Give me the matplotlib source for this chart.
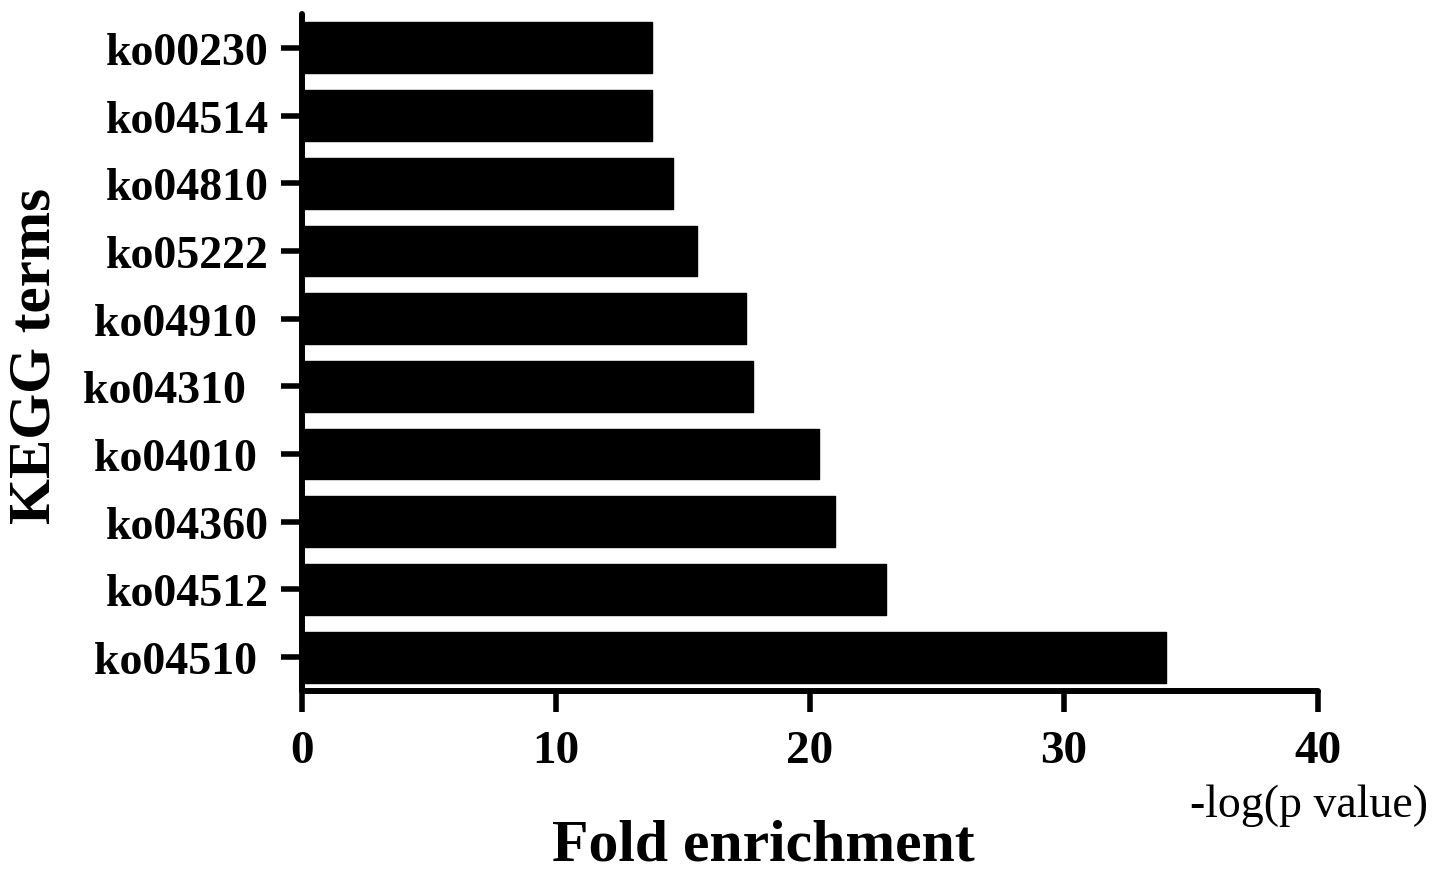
import matplotlib
matplotlib.use("Agg")
import matplotlib.pyplot as plt

# Data (bottom to top)
terms = ["ko04510 ", "ko04512", "ko04360", "ko04010 ", "ko04310  ",
         "ko04910 ", "ko05222", "ko04810", "ko04514", "ko00230"]
values = [34.02, 22.99, 20.98, 20.34, 17.76, 17.48, 15.54, 14.59, 13.77, 13.77]
xticks = [0, 10, 20, 30, 40]

plt.rcParams['font.family'] = ['Liberation Serif', 'DejaVu Serif']

fig = plt.figure(figsize=(14.41, 8.79), dpi=100)
ax = fig.add_axes([302/1441, 1-692/879, (1318-302)/1441, (692-15)/879])

ypos = list(range(len(terms)))
bars = ax.barh(ypos, values, height=0.75, left=0, color='black',
               edgecolor='black', linewidth=1.0)
for b in bars:
    b.set_joinstyle('round')

ax.set_xlim(0, 40)
ax.set_ylim(-0.5, len(terms) - 0.5)
ax.set_xticks(xticks)
ax.set_xticklabels([str(t) for t in xticks], fontsize=34, fontweight='bold')
ax.set_yticks(ypos)
ax.set_yticklabels(terms, fontsize=33, fontweight='bold')

for s in ['top', 'right']:
    ax.spines[s].set_visible(False)
for s in ['left', 'bottom']:
    ax.spines[s].set_linewidth(4.3)
    ax.spines[s].set_capstyle('round')

ax.tick_params(axis='x', direction='out', length=15, width=4.0, pad=13)
ax.tick_params(axis='y', direction='out', length=15, width=4.0, pad=9)

fig.text(763/1441, 1 - 847/879, "Fold enrichment", fontsize=43,
         fontweight='bold', ha='center', va='center')
fig.text(36/1441, 1 - 356/879, "KEGG terms", fontsize=42.5,
         fontweight='bold', ha='center', va='center', rotation=90)
fig.text(1309/1441, 1 - 806/879, "-log(p value)", fontsize=33,
         ha='center', va='center')

fig.savefig("out.png", dpi=100, facecolor='white')
